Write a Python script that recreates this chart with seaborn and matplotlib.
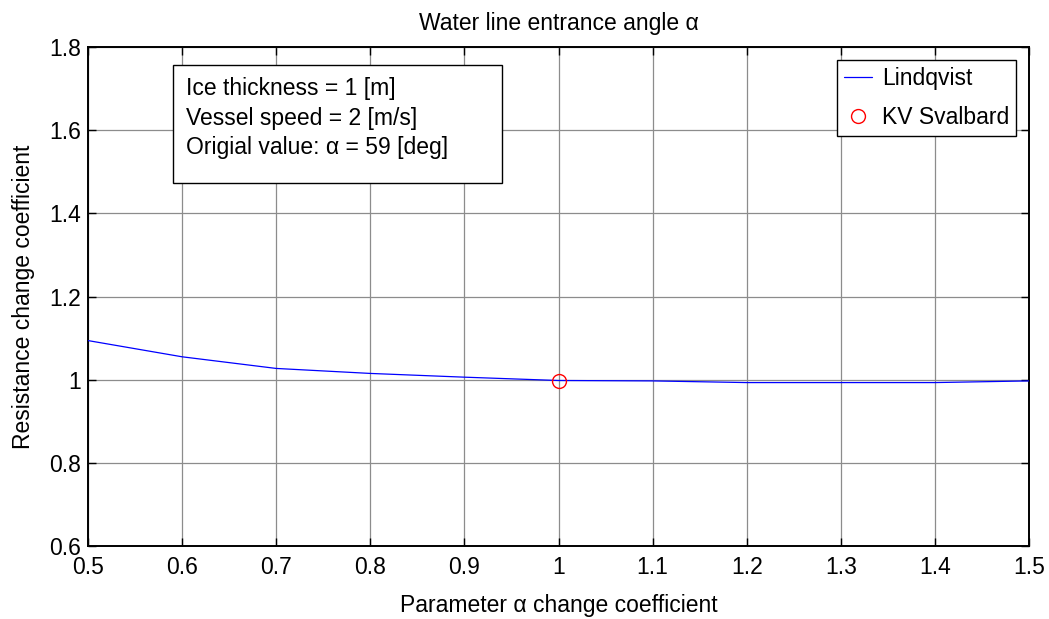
import matplotlib
matplotlib.use("Agg")
import matplotlib.pyplot as plt
import seaborn as sns
import pandas as pd
from matplotlib.patches import Rectangle

# ---- data ----
param_coeff = [0.5, 0.6, 0.7, 0.8, 0.9, 1.0, 1.1, 1.2, 1.3, 1.4, 1.5]
resistance_coeff = [1.094, 1.055, 1.027, 1.015, 1.006, 0.998, 0.997, 0.993, 0.993, 0.993, 0.997]
svalbard_x = [1.0]
svalbard_y = [0.997]
x_ticks = [0.5, 0.6, 0.7, 0.8, 0.9, 1.0, 1.1, 1.2, 1.3, 1.4, 1.5]
x_tick_labels = ["0.5", "0.6", "0.7", "0.8", "0.9", "1", "1.1", "1.2", "1.3", "1.4", "1.5"]
y_ticks = [0.6, 0.8, 1.0, 1.2, 1.4, 1.6, 1.8]
y_tick_labels = ["0.6", "0.8", "1", "1.2", "1.4", "1.6", "1.8"]
info_lines = ["Ice thickness = 1 [m]", "Vessel speed = 2 [m/s]", "Origial value: α = 59 [deg]"]

sns.set_theme(style="ticks")
plt.rcParams["font.family"] = ["Liberation Sans", "DejaVu Sans"]
plt.rcParams["text.color"] = "black"
plt.rcParams["axes.labelcolor"] = "black"
plt.rcParams["xtick.color"] = "black"
plt.rcParams["ytick.color"] = "black"
plt.rcParams["axes.titlecolor"] = "black"
FS = 16.5

fig = plt.figure(figsize=(10.49, 6.19), dpi=100)
ax = fig.add_axes([88 / 1049, 1 - 546 / 619, 941 / 1049, 499 / 619])

df_line = pd.DataFrame({"x": param_coeff, "y": resistance_coeff})
df_pt = pd.DataFrame({"x": svalbard_x, "y": svalbard_y})

sns.lineplot(data=df_line, x="x", y="y", ax=ax, color="blue", linewidth=0.9,
             label="Lindqvist", zorder=3)
sns.lineplot(data=df_pt, x="x", y="y", ax=ax, marker="o", linestyle="",
             markerfacecolor="none", markeredgecolor="red", markeredgewidth=1.0,
             markersize=10, label="KV Svalbard", zorder=4)

ax.set_xlim(0.5, 1.5)
ax.set_ylim(0.6, 1.8)
ax.set_xticks(x_ticks)
ax.set_xticklabels(x_tick_labels, fontsize=FS)
ax.set_yticks(y_ticks)
ax.set_yticklabels(y_tick_labels, fontsize=FS)
ax.tick_params(direction="in", length=6, width=1.0, top=True, right=True,
               colors="black")
ax.tick_params(axis="x", pad=7)
ax.tick_params(axis="y", pad=5)
ax.grid(True, color="#8c8c8c", linewidth=0.9, linestyle="-")
ax.set_axisbelow(True)
for sp in ax.spines.values():
    sp.set_visible(True)
    sp.set_color("black")
    sp.set_linewidth(1.4)

ax.set_title("Water line entrance angle α", fontsize=FS, pad=12, color="black")
ax.set_xlabel("Parameter α change coefficient", fontsize=FS, labelpad=11, color="black")
ax.set_ylabel("Resistance change coefficient", fontsize=FS, labelpad=10, color="black")

# info box
x0 = (173 - 88) / 941
x1 = (502 - 88) / 941
ytop = (546 - 65) / 499
ybot = (546 - 183) / 499
ax.add_patch(Rectangle((x0, ybot), x1 - x0, ytop - ybot, transform=ax.transAxes,
                       facecolor="white", edgecolor="black", linewidth=1.0, zorder=5))
for i, line in enumerate(info_lines):
    yb = (546 - (95 + 29.5 * i)) / 499
    ax.text((186 - 88) / 941, yb, line, transform=ax.transAxes, fontsize=FS,
            va="baseline", ha="left", zorder=6, color="black")

leg = ax.legend(loc="upper right", bbox_to_anchor=((1016 - 88) / 941, (546 - 60) / 499),
                borderaxespad=0, fancybox=False, framealpha=1, edgecolor="black",
                fontsize=FS, handlelength=1.2, handletextpad=0.45, borderpad=0.3,
                labelspacing=0.7, labelcolor="black")
leg.get_frame().set_linewidth(1.0)
leg.set_zorder(7)

fig.savefig("out.png", dpi=100, facecolor="white")
